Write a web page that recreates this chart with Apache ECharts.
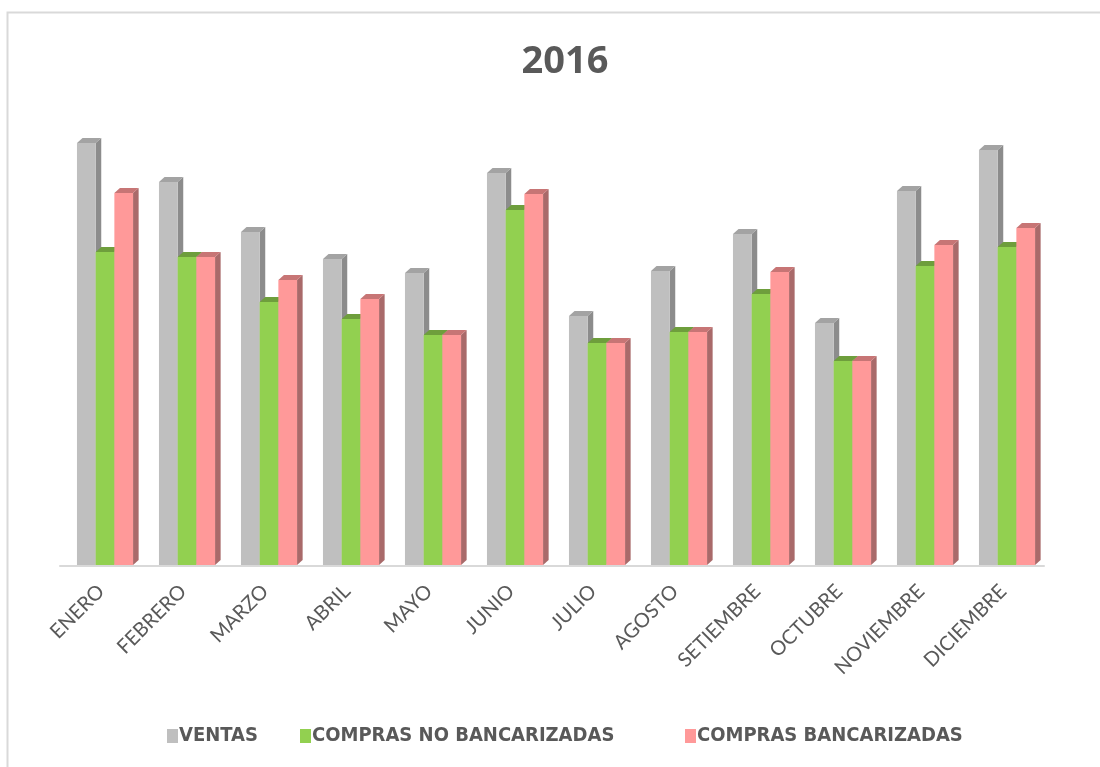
<!DOCTYPE html>
<html>
<head>
<meta charset="utf-8">
<script src="https://cdn.jsdelivr.net/npm/echarts@6/dist/echarts.min.js"></script>
<style>html,body{margin:0;padding:0;background:#fff}#c{width:1100px;height:767px}</style>
</head>
<body>
<div id="c"></div>
<script>
const categories = ['ENERO','FEBRERO','MARZO','ABRIL','MAYO','JUNIO','JULIO','AGOSTO','SETIEMBRE','OCTUBRE','NOVIEMBRE','DICIEMBRE'];
const ventas = [423, 384, 334, 307, 293, 393, 250, 295, 332, 243, 375, 416];
const comprasNoBancarizadas = [314, 309, 264, 247, 231, 356, 223, 234, 272, 205, 300, 319];
const comprasBancarizadas = [373, 309, 286, 267, 231, 372, 223, 234, 294, 205, 321, 338];
const seriesNames = ['VENTAS', 'COMPRAS NO BANCARIZADAS', 'COMPRAS BANCARIZADAS'];

const palettes = [
  {front: '#bfbfbf', top: '#a3a3a3', side: '#8c8c8c'},
  {front: '#92d050', top: '#6e9e3c', side: '#6a9a38'},
  {front: '#ff9999', top: '#c77575', side: '#a96a6a'}
];

function makeRender(sIdx) {
  const pal = palettes[sIdx];
  return function (params, api) {
    const ci = api.value(0);
    const v = api.value(1);
    const top = api.coord([ci, v]);
    const base = api.coord([ci, 0]);
    const band = api.size([1, 0])[0];
    const w = band * 0.228;
    const dx = band * 0.068;
    const dy = 5;
    const x0 = top[0] - band * 0.293 + sIdx * w;
    const yt = top[1];
    const yb = base[1] - 1;
    return {
      type: 'group',
      children: [
        {type: 'polygon', shape: {points: [[x0 + w, yt], [x0 + w + dx, yt - dy], [x0 + w + dx, yb - dy], [x0 + w, yb]]},
         style: {fill: pal.side}},
        {type: 'polygon', shape: {points: [[x0, yt], [x0 + dx, yt - dy], [x0 + w + dx, yt - dy], [x0 + w, yt]]},
         style: {fill: pal.top}},
        {type: 'rect', shape: {x: x0, y: yt, width: w, height: yb - yt},
         style: {fill: pal.front}}
      ]
    };
  };
}

const dataSets = [ventas, comprasNoBancarizadas, comprasBancarizadas];
const series = dataSets.map((arr, s) => ({
  name: seriesNames[s],
  type: 'custom',
  renderItem: makeRender(s),
  encode: {x: 0, y: 1},
  data: arr.map((v, i) => [i, v]),
  itemStyle: {color: palettes[s].front},
  z: 2 + s,
  clip: false
}));

const legendLefts = [162, 295, 680];
const legends = seriesNames.map((n, i) => ({
  left: legendLefts[i], top: 721,
  itemWidth: 11, itemHeight: 14, itemGap: 0,
  icon: 'rect',
  textStyle: {fontFamily: '"Liberation Sans Narrow", "DejaVu Sans Condensed", sans-serif', fontWeight: 'bold', fontSize: 20, color: '#595959', padding: [0, 0, 0, -4]},
  data: [n]
}));

const chart = echarts.init(document.getElementById('c'), null, {renderer: 'canvas'});
chart.setOption({
  backgroundColor: '#ffffff',
  animation: false,
  title: {
    text: '2016',
    left: 560, top: 38, textAlign: 'center',
    textStyle: {fontFamily: 'Open Sans', fontWeight: 'bold', fontSize: 38, color: '#595959'}
  },
  legend: legends,
  grid: {left: 60, right: 56, top: 116, bottom: 201, containLabel: false},
  xAxis: {
    type: 'category',
    data: categories,
    axisLine: {lineStyle: {color: '#d9d9d9', width: 2}},
    axisTick: {show: false},
    axisLabel: {rotate: 45, margin: 22, fontFamily: 'Lato', fontSize: 20, color: '#595959', interval: 0}
  },
  yAxis: {
    type: 'value', min: 0, max: 450,
    show: false
  },
  graphic: [{
    type: 'rect', shape: {x: 7.5, y: 12.5, width: 1200, height: 900},
    style: {fill: 'none', stroke: '#d9d9d9', lineWidth: 2}, z: 0, silent: true
  }],
  series: series
});
</script>
</body>
</html>
